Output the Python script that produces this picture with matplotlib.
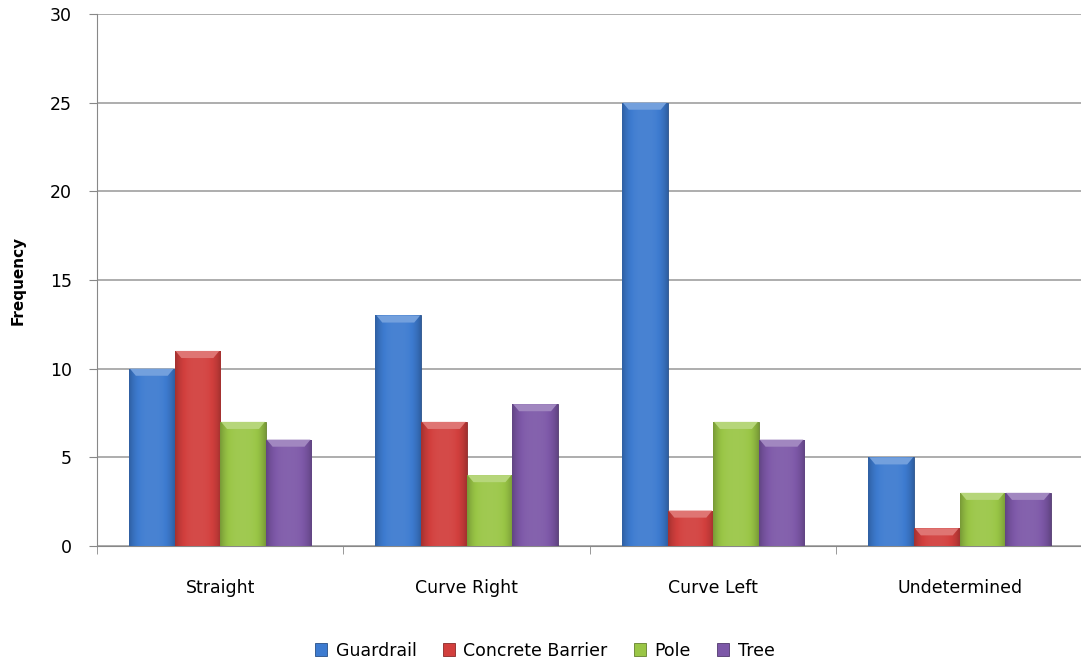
import numpy as np
import matplotlib.pyplot as plt
from matplotlib.colors import to_rgb
from matplotlib.patches import Polygon

categories = ["Straight", "Curve Right", "Curve Left", "Undetermined"]
series = ["Guardrail", "Concrete Barrier", "Pole", "Tree"]
guardrail = [10, 13, 25, 5]
concrete = [11, 7, 2, 1]
pole = [7, 4, 7, 3]
tree = [6, 8, 6, 3]
values = [guardrail, concrete, pole, tree]
colors = ["#3D7BD0", "#D23F3D", "#9AC646", "#7D58A8"]

plt.rcParams["font.family"] = ["DejaVu Sans"]

fig = plt.figure(figsize=(10.81, 6.62), dpi=100)
ax = fig.add_axes([0.0897, 0.1752, 0.912, 0.8037])

x = np.arange(len(categories))
width = 0.185


def shade(c, f):
    r = np.array(to_rgb(c))
    if f >= 0:
        return r + (1 - r) * f
    return r * (1 + f)


# horizontal profile: darker at edges, lighter near the middle
prof = np.linspace(-1, 1, 64)
prof = -0.28 * np.abs(prof) ** 3 + 0.06

for i, (vals, col) in enumerate(zip(values, colors)):
    xs = x + (i - 1.5) * width
    bars = ax.bar(xs, vals, width, color=col, edgecolor=shade(col, -0.35),
                  linewidth=0.6, label=series[i], zorder=3)
    img = np.array([shade(col, f) for f in prof])[None, :, :]
    for b in bars:
        bx, by = b.get_x(), b.get_y()
        bw, bh = b.get_width(), b.get_height()
        im = ax.imshow(img, extent=[bx, bx + bw, by, by + bh], aspect="auto",
                       zorder=3.5, interpolation="bilinear")
        im.set_clip_path(b)
        # light top bevel (trapezoid)
        top = by + bh
        bev = Polygon([[bx + bw * 0.02, top], [bx + bw * 0.98, top],
                       [bx + bw * 0.85, top - 0.4], [bx + bw * 0.15, top - 0.4]],
                      closed=True, facecolor=shade(col, 0.28), lw=0, zorder=3.6)
        ax.add_patch(bev)

ax.set_xlim(-0.5, 3.5)
ax.set_ylim(0, 30)
ax.set_yticks(range(0, 31, 5))
ax.set_xticks(x)
ax.set_xticklabels(categories, fontsize=12.5)
ax.set_xticks(np.arange(-0.5, 3.6, 1), minor=True)
ax.tick_params(axis="x", which="major", length=0, pad=24)
ax.tick_params(axis="x", which="minor", length=6, direction="out", color="#888888")
ax.tick_params(axis="y", length=6, direction="out", color="#888888", labelsize=12.5, pad=12)
ax.grid(axis="y", color="#A0A0A0", linewidth=1.2, zorder=0)
ax.set_axisbelow(True)
for s in ["top", "right"]:
    ax.spines[s].set_visible(False)
ax.spines["left"].set_color("#888888")
ax.spines["bottom"].set_color("#888888")
ax.set_ylabel("Frequency", fontsize=11, fontweight="bold")
ax.yaxis.set_label_coords(-0.072, 0.5)

fig.legend(loc="lower center", bbox_to_anchor=(0.504, -0.02), ncol=4,
           frameon=False, fontsize=12.5, handlelength=0.7, handleheight=0.7,
           handletextpad=0.5, columnspacing=1.5)

fig.savefig("out.png", dpi=100)
